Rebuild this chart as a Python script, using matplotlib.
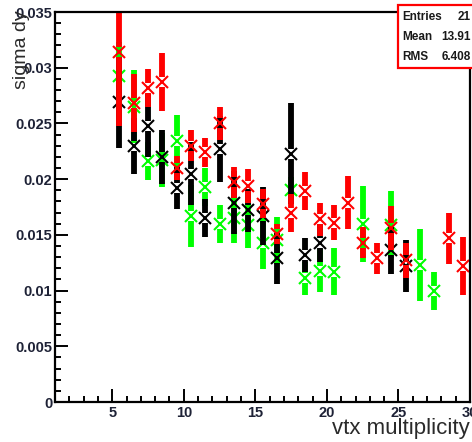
import numpy as np
import matplotlib
matplotlib.use("Agg")
import matplotlib.pyplot as plt
from matplotlib.patches import Rectangle
from matplotlib.ticker import MultipleLocator, FuncFormatter

# ---------------- data ----------------
red_x = [5.5, 6.5, 7.5, 8.5, 9.5, 10.5, 11.5, 12.5, 13.5, 14.5, 15.5, 16.5, 17.5,
         18.5, 19.5, 20.5, 21.5, 22.5, 23.5, 24.5, 25.5, 28.5, 29.5]
red_y = [0.0314, 0.0268, 0.0282, 0.0287, 0.0210, 0.0230, 0.0224, 0.0250, 0.0197,
         0.0194, 0.0178, 0.0151, 0.0170, 0.0189, 0.0164, 0.0161, 0.0179, 0.0143,
         0.0129, 0.0156, 0.0127, 0.0147, 0.0122]
red_err = [0.0066, 0.0026, 0.0017, 0.0026, 0.0011, 0.0014, 0.0013, 0.0015, 0.0014,
           0.0015, 0.0013, 0.0009, 0.0017, 0.0017, 0.0015, 0.0016, 0.0024, 0.0014,
           0.0014, 0.0020, 0.0016, 0.0023, 0.0026]

black_x = [5.5, 6.5, 7.5, 8.5, 9.5, 10.5, 11.5, 12.5, 13.5, 14.5, 15.5, 16.5, 17.5,
           18.5, 19.5, 24.5, 25.5]
black_y = [0.0269, 0.0230, 0.0248, 0.0220, 0.0192, 0.0205, 0.0165, 0.0227, 0.0179,
           0.0172, 0.0167, 0.0129, 0.0223, 0.0132, 0.0143, 0.0136, 0.0122]
black_err = [0.0041, 0.0025, 0.0028, 0.0024, 0.0019, 0.0028, 0.0017, 0.0030, 0.0028,
             0.0019, 0.0026, 0.0023, 0.0045, 0.0015, 0.0017, 0.0021, 0.0023]

green_x = [5.5, 6.5, 7.5, 8.5, 9.5, 10.5, 11.5, 12.5, 13.5, 14.5, 15.5, 16.5, 17.5,
           18.5, 19.5, 20.5, 22.5, 24.5, 26.5, 27.5]
green_y = [0.0293, 0.0265, 0.0216, 0.0217, 0.0234, 0.0167, 0.0193, 0.0160, 0.0165,
           0.0159, 0.0143, 0.0145, 0.0190, 0.0111, 0.0118, 0.0117, 0.0160, 0.0159,
           0.0123, 0.0100]
green_err = [0.0030, 0.0033, 0.0017, 0.0024, 0.0024, 0.0028, 0.0017, 0.0017, 0.0022,
             0.0021, 0.0024, 0.0021, 0.0012, 0.0015, 0.0019, 0.0021, 0.0034, 0.0030,
             0.0032, 0.0017]

stats_labels = ["Entries", "Mean", "RMS"]
stats_values = ["21", "13.91", "6.408"]

x_label = "vtx multiplicity"
y_label = "sigma dy"

# ---------------- figure ----------------
W, H = 472, 442
fig = plt.figure(figsize=(W / 100, H / 100), dpi=100)
ax = fig.add_axes([55 / W, 40 / H, 415 / W, 390 / H])
ax.set_xlim(1, 30)
ax.set_ylim(0, 0.035)

tick_color = "#1e2236"
ax.xaxis.set_major_locator(MultipleLocator(5))
ax.xaxis.set_minor_locator(MultipleLocator(1))
ax.yaxis.set_major_locator(MultipleLocator(0.005))
ax.yaxis.set_minor_locator(MultipleLocator(0.001))
ax.yaxis.set_major_formatter(FuncFormatter(
    lambda v, p: "0" if abs(v) < 1e-12 else ("%g" % v)))
ax.tick_params(which="both", direction="in", top=False, right=False,
               width=1.4, colors="black", labelcolor=tick_color)
ax.tick_params(which="major", length=9.5)
ax.tick_params(which="minor", length=4.5)
ax.tick_params(axis="y", which="major", pad=2)
ax.tick_params(axis="x", which="major", pad=3)
for lab in ax.get_xticklabels() + ax.get_yticklabels():
    lab.set_fontfamily("Liberation Sans")
    lab.set_fontweight("bold")
    lab.set_fontsize(10.5)
for s in ax.spines.values():
    s.set_linewidth(1.6)

# gap around marker (ROOT-style error bars)
gap = 0.035 * 5.0 / 390.0


def draw_series(xs, ys, es, color):
    xs = np.asarray(xs)
    ys = np.asarray(ys)
    es = np.asarray(es)
    ax.vlines(xs, ys + gap, ys + es, colors=color, linewidth=4.2,
              capstyle="butt")
    ax.vlines(xs, ys - es, ys - gap, colors=color, linewidth=4.2,
              capstyle="butt")
    ax.plot(xs, ys, linestyle="none", marker="x", markersize=8.5,
            markeredgewidth=1.5, color=color)


draw_series(green_x, green_y, green_err, "#00ff00")
draw_series(black_x, black_y, black_err, "#000000")
draw_series(red_x, red_y, red_err, "#ff0000")

ax.set_xlabel(x_label, fontfamily="Liberation Sans", fontsize=16,
              color="#2a2a2a")
ax.xaxis.set_label_coords(1.0, -0.067)
ax.xaxis.label.set_horizontalalignment("right")
ax.xaxis.label.set_verticalalignment("center")
ax.set_ylabel(y_label, fontfamily="Liberation Sans", fontsize=14,
              color="#2a2a2a")
ax.yaxis.set_label_coords(-0.08, 1.005)
ax.yaxis.label.set_horizontalalignment("right")
ax.yaxis.label.set_verticalalignment("center")

# stats box
bx0, by0 = 398 / W, 1 - 68 / H
fig.patches.append(Rectangle((bx0, by0), (W + 3) / W - bx0, (68 - 5) / H,
                             transform=fig.transFigure, facecolor="white",
                             edgecolor="#ff0000", linewidth=1.6, zorder=10))
row_y = [17.5, 37, 57]
for lab, val, yy in zip(stats_labels, stats_values, row_y):
    fig.text(402 / W, 1 - yy / H, lab, ha="left", va="center",
             fontfamily="Liberation Sans", fontweight="bold", fontsize=8.5,
             color="#1a1a1a", zorder=11)
    fig.text(471 / W, 1 - yy / H, val, ha="right", va="center",
             fontfamily="Liberation Sans", fontweight="bold", fontsize=8.5,
             color="#1a1a1a", zorder=11)

fig.savefig("out.png", dpi=100)
